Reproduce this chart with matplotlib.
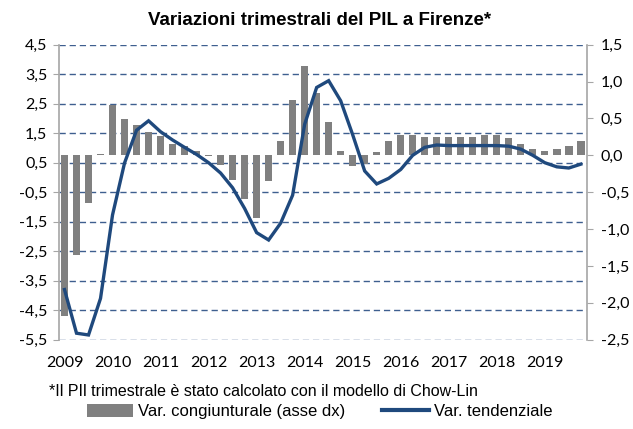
import matplotlib
matplotlib.use("Agg")
import matplotlib.pyplot as plt
from matplotlib.ticker import FuncFormatter
from matplotlib.patches import Patch
from matplotlib.lines import Line2D
import numpy as np

years = ["2009", "2010", "2011", "2012", "2013", "2014", "2015", "2016", "2017", "2018", "2019"]
quarters = [f"{y}Q{q}" for y in years for q in range(1, 5)]

# Var. congiunturale (right axis)
congiunturale = [
    -2.18, -1.35, -0.65, 0.02,
    0.68, 0.49, 0.41, 0.32,
    0.26, 0.16, 0.13, 0.06,
    -0.01, -0.13, -0.33, -0.59,
    -0.85, -0.35, 0.19, 0.75,
    1.21, 0.84, 0.45, 0.06,
    -0.14, -0.12, 0.04, 0.19,
    0.28, 0.28, 0.25, 0.25,
    0.25, 0.25, 0.25, 0.28,
    0.28, 0.23, 0.15, 0.08,
    0.06, 0.08, 0.13, 0.19,
]

# Var. tendenziale (left axis)
tendenziale = [
    -3.80, -5.28, -5.34, -4.10,
    -1.27, 0.49, 1.60, 1.92,
    1.55, 1.27, 1.02, 0.78,
    0.50, 0.15, -0.35, -1.05,
    -1.87, -2.12, -1.55, -0.60,
    1.80, 3.05, 3.28, 2.60,
    1.45, 0.22, -0.22, -0.03,
    0.27, 0.75, 1.02, 1.10,
    1.08, 1.08, 1.08, 1.08,
    1.08, 1.06, 0.96, 0.75,
    0.50, 0.36, 0.32, 0.45,
]

left_ticks = [4.5, 3.5, 2.5, 1.5, 0.5, -0.5, -1.5, -2.5, -3.5, -4.5, -5.5]
right_ticks = [1.5, 1.0, 0.5, 0.0, -0.5, -1.0, -1.5, -2.0, -2.5]

title = "Variazioni trimestrali del PIL a Firenze*"
footnote = "*Il PIl trimestrale è stato calcolato con il modello di Chow-Lin"
label_bar = "Var. congiunturale (asse dx)"
label_line = "Var. tendenziale"

narrow = ["Liberation Sans Narrow", "Liberation Sans", "DejaVu Sans"]
tickfont = ["Lato", "DejaVu Sans"]

bar_color = "#808080"
line_color = "#1F497D"
grid_color = "#3E5F8F"
axis_gray = "#A6A6A6"

fig = plt.figure(figsize=(6.33, 4.29), dpi=100)
rect = [58.5 / 633, 1 - 339.7 / 429, (586.8 - 58.5) / 633, (339.7 - 44.7) / 429]
ax = fig.add_axes(rect)
x = np.arange(len(quarters))

ax.set_xlim(-0.5, len(quarters) - 0.5)
ax.set_ylim(-5.5, 4.5)
ax.set_yticks(left_ticks)
ax.yaxis.set_major_formatter(FuncFormatter(lambda v, p: f"{v:.1f}".replace(".", ",")))
for yv in left_ticks:
    ax.axhline(yv, color=grid_color, lw=1.0, linestyle=(0, (4.5, 2.8)), zorder=0)

ax.set_xticks(x[::4])
ax.set_xticklabels(years)
ax.tick_params(axis="x", length=0, pad=12, labelsize=11.5)
ax.tick_params(axis="y", direction="out", length=4, color=axis_gray, labelsize=11.5, pad=4)
for lab in ax.get_xticklabels() + ax.get_yticklabels():
    lab.set_family(tickfont)
for s in ["top", "bottom", "right"]:
    ax.spines[s].set_visible(False)
ax.spines["left"].set_color(axis_gray)
ax.spines["left"].set_linewidth(1.2)

ax2 = ax.twinx()
ax2.set_ylim(-2.5, 1.5)
ax2.set_yticks(right_ticks)
ax2.yaxis.set_major_formatter(FuncFormatter(lambda v, p: f"{v:.1f}".replace(".", ",")))
ax2.bar(x, congiunturale, width=0.62, color=bar_color, zorder=2)
ax2.tick_params(axis="y", direction="out", length=4, color=axis_gray, labelsize=11.5, pad=6)
for lab in ax2.get_yticklabels():
    lab.set_family(tickfont)
for s in ["top", "bottom", "left"]:
    ax2.spines[s].set_visible(False)
ax2.spines["right"].set_color(axis_gray)
ax2.spines["right"].set_linewidth(1.2)

ax3 = ax.twinx()
ax3.set_ylim(-5.5, 4.5)
ax3.plot(x, tendenziale, color=line_color, lw=2.4, solid_joinstyle="miter", zorder=3)
ax3.set_yticks([])
for s in ax3.spines.values():
    s.set_visible(False)

fig.text(0.505, 0.952, title, ha="center", va="center", fontsize=13.5,
         fontweight="bold", family=narrow)
fig.text(0.078, 0.088, footnote, ha="left", va="center", fontsize=11.5, family=narrow)

handles = [Patch(facecolor=bar_color, edgecolor="none"),
           Line2D([0], [0], color=line_color, lw=3)]
fig.legend(handles, [label_bar, label_line], loc="center", bbox_to_anchor=(0.505, 0.04),
           ncol=2, frameon=False, prop={"family": narrow, "size": 12},
           handlelength=2.8, handletextpad=0.3, columnspacing=2.2, handleheight=0.8)

fig.savefig("out.png", dpi=100)
